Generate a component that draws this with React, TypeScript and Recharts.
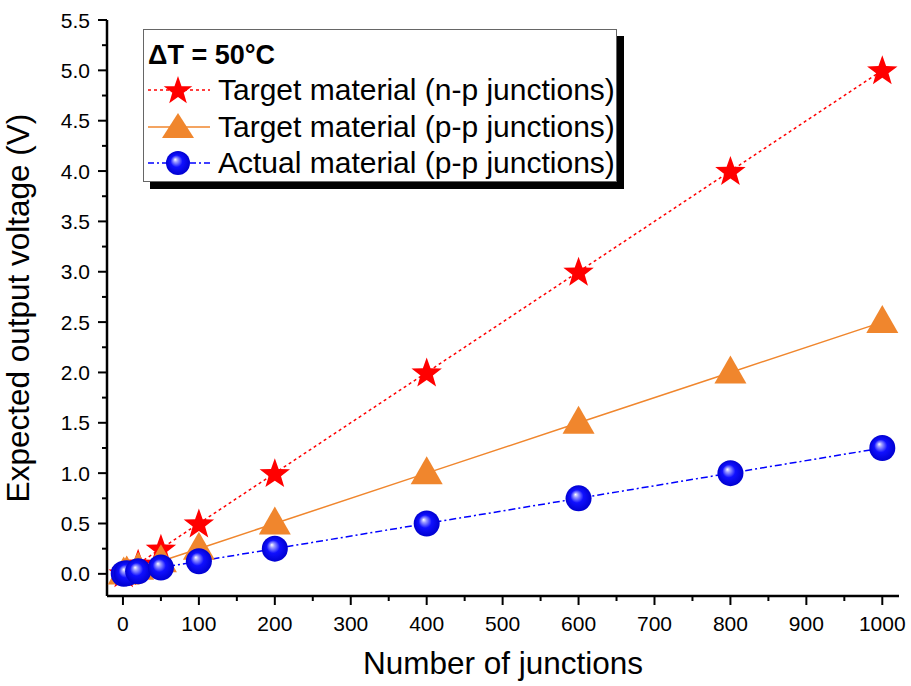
import React from 'react';
import { LineChart, Line, XAxis, YAxis, Legend } from 'recharts';

const junctions = [1, 5, 20, 50, 100, 200, 400, 600, 800, 1000];
const targetNP = [0.005, 0.025, 0.1, 0.25, 0.5, 1, 2, 3, 4, 5];
const targetPP = [0.0025, 0.0125, 0.05, 0.125, 0.25, 0.5, 1, 1.5, 2, 2.5];
const actualPP = [0.00125, 0.00625, 0.025, 0.0625, 0.125, 0.25, 0.5, 0.75, 1, 1.25];

const xTicks = [0, 50, 100, 150, 200, 250, 300, 350, 400, 450, 500, 550, 600, 650, 700, 750, 800, 850, 900, 950, 1000];
const yTicks = [0, 0.25, 0.5, 0.75, 1, 1.25, 1.5, 1.75, 2, 2.25, 2.5, 2.75, 3, 3.25, 3.5, 3.75, 4, 4.25, 4.5, 4.75, 5, 5.25, 5.5];
const xMajor = [0, 100, 200, 300, 400, 500, 600, 700, 800, 900, 1000];
const yMajor = [0, 0.5, 1, 1.5, 2, 2.5, 3, 3.5, 4, 4.5, 5, 5.5];

const legendTitle = 'ΔT = 50°C';
const seriesNames = [
  'Target material (n-p junctions)',
  'Target material (p-p junctions)',
  'Actual material (p-p junctions)',
];
const xTitle = 'Number of junctions';
const yTitle = 'Expected output voltage (V)';

const data = junctions.map((n, i) => ({ n, np: targetNP[i], pp: targetPP[i], act: actualPP[i] }));

const FONT = '"Liberation Sans", Arial, sans-serif';
const RED = '#ff0000';
const ORANGE = '#f0862d';
const BLUE = '#0000ff';

function starPath(cx: number, cy: number, R: number, r: number) {
  let d = '';
  for (let i = 0; i < 10; i++) {
    const ang = -Math.PI / 2 + (i * Math.PI) / 5;
    const rad = i % 2 === 0 ? R : r;
    d += (i === 0 ? 'M' : 'L') + (cx + rad * Math.cos(ang)).toFixed(2) + ',' + (cy + rad * Math.sin(ang)).toFixed(2);
  }
  return d + 'Z';
}

const StarDot = (props: any) => {
  const { cx, cy } = props;
  if (cx == null || cy == null) return null;
  return <path d={starPath(cx, cy + 1, 16, 6.5)} fill={RED} stroke="none" />;
};

const TriDot = (props: any) => {
  const { cx, cy } = props;
  if (cx == null || cy == null) return null;
  return (
    <path
      d={`M${cx},${cy - 17}L${cx - 16},${cy + 11}L${cx + 16},${cy + 11}Z`}
      fill={ORANGE}
      stroke="none"
    />
  );
};

const SphereDefs = ({ id }: { id: string }) => (
  <defs>
    <radialGradient id={id} cx="0.5" cy="0.5" r="0.5" fx="0.38" fy="0.35">
      <stop offset="0" stopColor="#ffffff" />
      <stop offset="0.18" stopColor="#9a9aff" />
      <stop offset="0.5" stopColor="#1010ff" />
      <stop offset="1" stopColor="#0000d0" />
    </radialGradient>
  </defs>
);

const SphereDot = (props: any) => {
  const { cx, cy, index } = props;
  if (cx == null || cy == null) return null;
  const id = 'sph' + index;
  return (
    <g>
      <SphereDefs id={id} />
      <circle cx={cx} cy={cy} r={13} fill={`url(#${id})`} />
    </g>
  );
};

const XTick = (props: any) => {
  const { x, y, payload } = props;
  const v = payload.value;
  const major = xMajor.includes(v);
  return (
    <g>
      <line x1={x} x2={x} y1={y} y2={y + (major ? 9 : 5)} stroke="#000" strokeWidth={2} />
      {major && (
        <text x={x} y={y + 27} textAnchor="middle" dominantBaseline="central" fontSize={21} fontFamily={FONT} fill="#000">
          {v}
        </text>
      )}
    </g>
  );
};

const YTick = (props: any) => {
  const { x, y, payload } = props;
  const v = payload.value;
  const major = yMajor.includes(v);
  return (
    <g>
      <line x1={x - (major ? 9 : 5)} x2={x} y1={y} y2={y} stroke="#000" strokeWidth={2} />
      {major && (
        <text x={x - 17} y={y} textAnchor="end" dominantBaseline="central" fontSize={21} fontFamily={FONT} fill="#000">
          {v.toFixed(1)}
        </text>
      )}
    </g>
  );
};

const LegendBox = () => {
  const row = (i: number) => {
    let sample: React.ReactNode = null;
    if (i === 0) {
      sample = (
        <svg width={66} height={34}>
          <line x1={2} x2={64} y1={17} y2={17} stroke={RED} strokeWidth={1.5} strokeDasharray="3 3" />
          <path d={starPath(32, 18, 15, 6)} fill={RED} />
        </svg>
      );
    } else if (i === 1) {
      sample = (
        <svg width={66} height={34}>
          <line x1={2} x2={64} y1={17} y2={17} stroke={ORANGE} strokeWidth={1.5} />
          <path d="M32,3L16,28L48,28Z" fill={ORANGE} />
        </svg>
      );
    } else {
      sample = (
        <svg width={66} height={34}>
          <SphereDefs id="legsph" />
          <line x1={2} x2={64} y1={17} y2={17} stroke={BLUE} strokeWidth={1.5} strokeDasharray="6 3 2 3" />
          <circle cx={32} cy={17} r={12} fill="url(#legsph)" />
        </svg>
      );
    }
    return (
      <div key={i} style={{ display: 'flex', alignItems: 'center', height: 36.5 }}>
        {sample}
        <span style={{ marginLeft: 6, fontSize: 30, fontFamily: FONT, color: '#000', whiteSpace: 'nowrap' }}>
          {seriesNames[i]}
        </span>
      </div>
    );
  };
  return (
    <div
      style={{
        boxSizing: 'border-box',
        width: 474,
        height: 153,
        border: '1.5px solid #666',
        background: '#fff',
        boxShadow: '7px 7px 0 #000',
        padding: '6px 0 0 2px',
        textAlign: 'left',
      }}
    >
      <div style={{ fontSize: 27, fontWeight: 'bold', fontFamily: FONT, color: '#000', height: 36, lineHeight: '38px', paddingLeft: 2 }}>
        {legendTitle}
      </div>
      {row(0)}
      {row(1)}
      {row(2)}
    </div>
  );
};

export default function App() {
  return (
    <div style={{ position: 'absolute', left: 0, top: 0, width: 911, height: 686, background: '#fff' }}>
      <LineChart width={911} height={686} data={data} margin={{ top: 20, right: 12, bottom: 40, left: 0 }}>
        <XAxis
          dataKey="n"
          type="number"
          domain={[-21, 1022]}
          ticks={xTicks}
          interval={0}
          allowDataOverflow
          height={50}
          tickSize={0}
          tickMargin={0}
          tickLine={false}
          tick={<XTick />}
          axisLine={{ stroke: '#000', strokeWidth: 2.5 }}
          label={{ value: xTitle, position: 'insideBottom', offset: -28, fontSize: 31.5, fontFamily: FONT, fill: '#000' }}
        />
        <YAxis
          type="number"
          domain={[-0.22, 5.5]}
          ticks={yTicks}
          interval={0}
          allowDataOverflow
          width={107}
          tickSize={0}
          tickMargin={0}
          tickLine={false}
          tick={<YTick />}
          axisLine={{ stroke: '#000', strokeWidth: 2.5 }}
          label={{ value: yTitle, angle: -90, position: 'insideLeft', offset: 0, dx: 18, fontSize: 31.5, fontFamily: FONT, fill: '#000', style: { textAnchor: 'middle' } }}
        />
        <Legend
          layout="horizontal"
          verticalAlign="middle"
          align="center"
          content={<LegendBox />}
          wrapperStyle={{ left: 143, top: 29, width: 474, height: 153 }}
        />
        <Line
          dataKey="np"
          name={seriesNames[0]}
          stroke={RED}
          strokeWidth={1.5}
          strokeDasharray="3 3"
          dot={<StarDot />}
          activeDot={false}
          isAnimationActive={false}
        />
        <Line
          dataKey="pp"
          name={seriesNames[1]}
          stroke={ORANGE}
          strokeWidth={1.5}
          dot={<TriDot />}
          activeDot={false}
          isAnimationActive={false}
        />
        <Line
          dataKey="act"
          name={seriesNames[2]}
          stroke={BLUE}
          strokeWidth={1.5}
          strokeDasharray="7 3 2 3"
          dot={<SphereDot />}
          activeDot={false}
          isAnimationActive={false}
        />
      </LineChart>
    </div>
  );
}
